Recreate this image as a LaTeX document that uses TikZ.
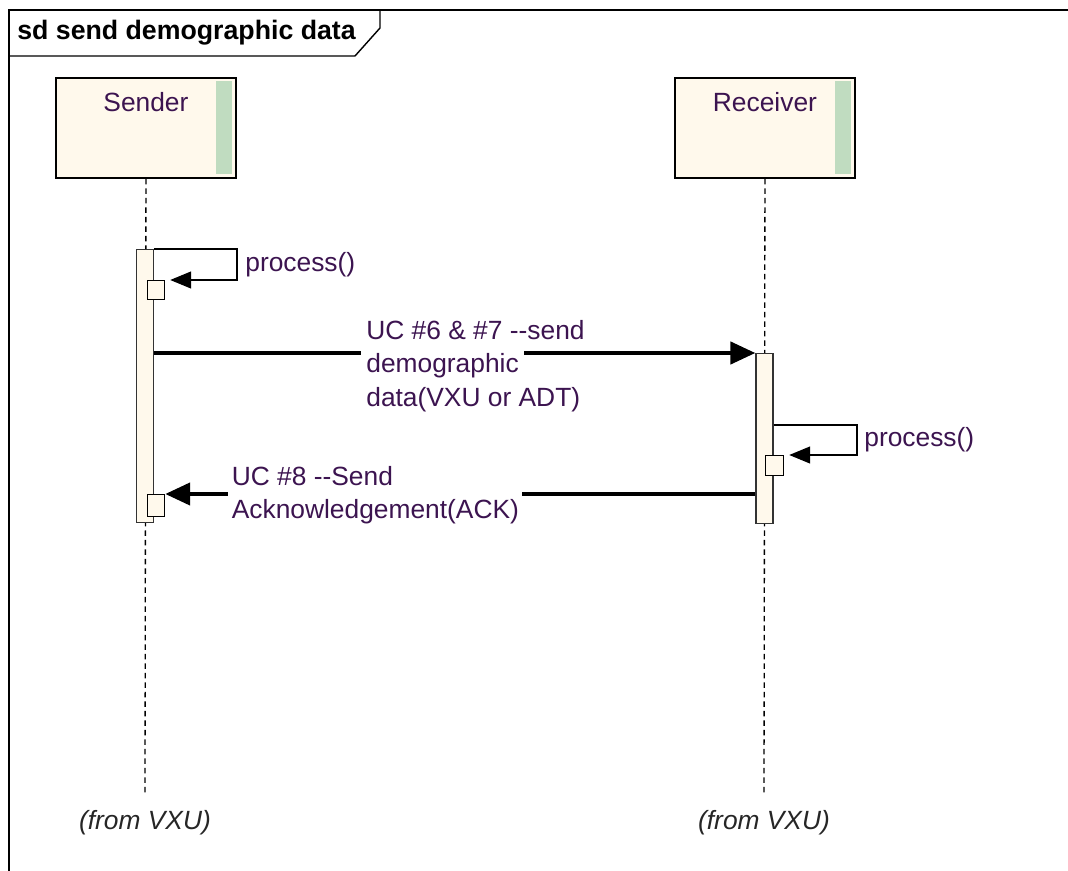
\documentclass[tikz,border=0pt]{standalone}
\usepackage{fontspec}
\setmainfont{Liberation Sans}
\usepackage{tikz}
\usetikzlibrary{arrows.meta,positioning,calc}
\definecolor{boxfill}{RGB}{255,249,236}
\definecolor{greenbar}{RGB}{192,220,192}
\definecolor{txt}{RGB}{60,20,80}
\tikzset{
  lifebox/.style={draw=black,line width=1.1pt,fill=boxfill,anchor=north west,
    minimum width=3.6cm,minimum height=2cm,inner sep=0pt},
  lifeline/.style={line width=0.75pt,dash pattern=on 0.11cm off 0.08cm},
  actbar/.style={draw=black!80,line width=0.7pt,fill=boxfill,anchor=north,
    minimum width=0.34cm,inner sep=0pt},
  callbox/.style={draw=black,line width=0.7pt,fill=boxfill,anchor=north west,
    minimum width=0.34cm,inner sep=0pt},
  msg/.style={line width=2.5pt,-{Triangle[length=0.5cm,width=0.44cm]}},
  selfmsg/.style={line width=0.75pt,-{Triangle[length=0.42cm,width=0.34cm]},shorten >=0.1cm},
  lbl/.style={text=txt,inner sep=0pt,font=\fontsize{15}{18.8}\selectfont},
  fromlbl/.style={lbl,text=black!85,font=\fontsize{15}{18.8}\selectfont\itshape}
}
\begin{document}
\begin{tikzpicture}[x=0.02cm,y=-0.02cm]
\useasboundingbox[fill=white] (0,0) rectangle (1068,871);
% frame
\draw[line width=0.8pt] (9,871) -- (9,10) -- (1068,10);
\draw[line width=0.8pt] (9,56) -- (355,56) -- (380,28) -- (380,10);
\node[lbl,text=black,anchor=west,font=\fontsize{15.2}{18.8}\selectfont\bfseries] (title) at (17,33) {sd send demographic data};

% lifelines
\node[lifebox] (sender) at (55,77) {};
\node[lifebox] (receiver) at (674,77) {};
\fill[greenbar] (216,81) rectangle (232,174);
\fill[greenbar] (835,81) rectangle (851,174);
\node[lbl,below=0.3cm of sender.north] (sendername) {Sender};
\node[lbl,below=0.3cm of receiver.north] (receivername) {Receiver};
\coordinate (send) at (145,795);
\coordinate (rend) at (764,795);
\draw[lifeline] (sender.south) -- (send);
\draw[lifeline] (receiver.south) -- (rend);
\node[fromlbl,below=0.3cm of send] (sfrom) {(from VXU)};
\node[fromlbl,below=0.3cm of rend] (rfrom) {(from VXU)};

% activations
\node[actbar,minimum height=5.46cm] (sact) at (145,249) {};
\node[actbar,minimum height=3.4cm] (ract) at (764.5,353) {};
\node[callbox,minimum height=0.38cm] (sproc) at (147,280) {};
\node[callbox,minimum height=0.4cm,minimum width=0.36cm] (rproc) at (765,455) {};
\node[callbox,minimum height=0.44cm] (sack) at (147,494) {};

% self calls
\coordinate (sloop) at (237,249);
\coordinate (rloop) at (857,425);
\draw[selfmsg] (sact.north east) -- (sloop) |- (sproc.north east);
\draw[selfmsg] (ract.east |- rloop) -- (rloop) |- (rproc.north east);
\node[lbl,anchor=west] (sproclbl) at ($(sloop)+(8,16)$) {process()};
\node[lbl,anchor=west] (rproclbl) at ($(rloop)+(7,15)$) {process()};

% messages
\draw[msg] (sact.east |- ract.north) -- (ract.north west);
\node[lbl,anchor=base west,fill=white,inner xsep=3pt,inner ysep=3.5pt,xshift=-3pt] (m1b) at (366,373) {demographic};
\node[lbl,anchor=base west] (m1a) at (366,340) {UC \#6 \& \#7 -{}-send};
\node[lbl,anchor=base west] (m1c) at (366,406) {data(VXU or ADT)};
\draw[msg] (ract.west |- sack.north east) -- (sack.north east);
\node[lbl,anchor=west,fill=white,align=left,inner sep=2pt] (m2) at (228,495) {UC \#8 -{}-Send\\Acknowledgement(ACK)};
\end{tikzpicture}
\end{document}
